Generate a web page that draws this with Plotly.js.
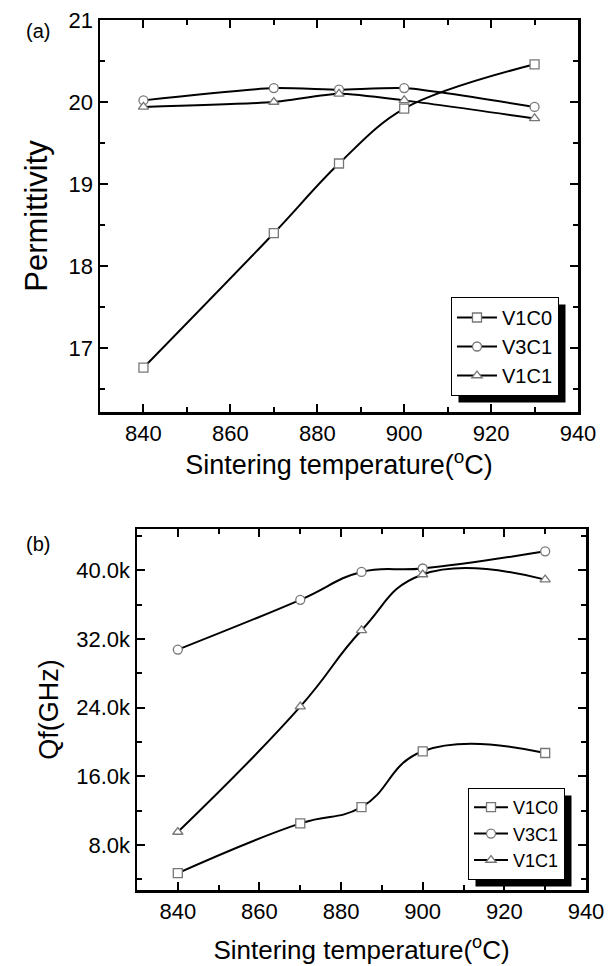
<!DOCTYPE html>
<html>
<head>
<meta charset="utf-8">
<script src="https://cdn.plot.ly/plotly-3.0.1.min.js"></script>
<style>html,body{margin:0;padding:0;background:#fff;}#chart{width:614px;height:966px;}</style>
</head>
<body>
<div id="chart"></div>
<script>
// ---- data ----
const temps = [840, 870, 885, 900, 930];
const seriesNames = ["V1C0", "V3C1", "V1C1"];
const permV1C0 = [16.76, 18.40, 19.25, 19.92, 20.46];
const permV3C1 = [20.02, 20.17, 20.15, 20.17, 19.94];
const permV1C1 = [19.94, 20.00, 20.10, 20.02, 19.80];
const qfV1C0 = [4700, 10500, 12400, 18900, 18700];
const qfV3C1 = [30750, 36550, 39800, 40200, 42200];
const qfV1C1 = [9500, 24100, 33000, 39500, 38900];
const qfTickVals = [8000, 16000, 24000, 32000, 40000];
const qfTickText = ["8.0k", "16.0k", "24.0k", "32.0k", "40.0k"];

const W = 614, H = 966;
const px = v => v / W;
const py = v => 1 - v / H;
const FONT = "Liberation Sans, Arial, sans-serif";
const symbols = ["square", "circle", "triangle-up"];

function mk(y, i, xa, ya, leg, sm) {
  return {
    x: temps, y: y, name: seriesNames[i], xaxis: xa, yaxis: ya, legend: leg,
    mode: "lines+markers", type: "scatter",
    line: {color: "#000", width: 2, shape: "spline", smoothing: sm},
    marker: {symbol: symbols[i], size: 9, color: "#fff", line: {width: 1.3, color: "#777"}}
  };
}
const traces = [
  mk(permV1C0, 0, "x", "y", "legend", 1),
  mk(permV3C1, 1, "x", "y", "legend", 0.6),
  mk(permV1C1, 2, "x", "y", "legend", 0.6),
  mk(qfV1C0, 0, "x2", "y2", "legend2", 1.3),
  mk(qfV3C1, 1, "x2", "y2", "legend2", 1.2),
  mk(qfV1C1, 2, "x2", "y2", "legend2", 1.3)
];

const axBase = {
  showgrid: false, zeroline: false, showline: true, linecolor: "#000", linewidth: 2.5,
  mirror: "ticks", ticks: "inside", ticklen: 8, tickwidth: 2, tickcolor: "#000",
  tickfont: {family: FONT, size: 22, color: "#000"}, automargin: false
};
const legBase = {
  bgcolor: "#fff", bordercolor: "#000", borderwidth: 1,
  xanchor: "left", yanchor: "top", tracegroupgap: 0
};

const layout = {
  width: W, height: H, margin: {l: 0, r: 0, t: 0, b: 0},
  paper_bgcolor: "#fff", plot_bgcolor: "#fff", showlegend: true,
  xaxis: Object.assign({}, axBase, {
    domain: [px(100), px(578)], range: [830, 940], anchor: "y",
    tick0: 840, dtick: 20, minor: {dtick: 10, tick0: 830, ticks: "inside", ticklen: 5, tickwidth: 2, tickcolor: "#000"},
    title: {text: "Sintering temperature(<sup>o</sup>C)", font: {family: FONT, size: 27, color: "#000"}, standoff: 8}
  }),
  yaxis: Object.assign({}, axBase, {
    domain: [py(412), py(20)], range: [16.22, 21], anchor: "x",
    tick0: 17, dtick: 1, minor: {dtick: 0.5, ticks: "inside", ticklen: 5, tickwidth: 2, tickcolor: "#000"},
    title: {text: "Permittivity", font: {family: FONT, size: 31, color: "#000"}, standoff: 12}
  }),
  xaxis2: Object.assign({}, axBase, {
    domain: [px(137), px(586)], range: [830, 940], anchor: "y2",
    tick0: 840, dtick: 20, minor: {dtick: 10, tick0: 830, ticks: "inside", ticklen: 5, tickwidth: 2, tickcolor: "#000"},
    title: {text: "Sintering temperature(<sup>o</sup>C)", font: {family: FONT, size: 26, color: "#000"}, standoff: 18}
  }),
  yaxis2: Object.assign({}, axBase, {
    domain: [py(890), py(529)], range: [2740, 44800], anchor: "x2",
    tickmode: "array", tickvals: qfTickVals, ticktext: qfTickText,
    minor: {tickmode: "linear", tick0: 0, dtick: 4000, ticks: "inside", ticklen: 5, tickwidth: 2, tickcolor: "#000"},
    title: {text: "Qf(GHz)", font: {family: FONT, size: 27, color: "#000"}, standoff: 10}
  }),
  legend: Object.assign({}, legBase, {x: px(451), y: py(297), itemwidth: 40,
    font: {family: FONT, size: 20, color: "#000"}}),
  legend2: Object.assign({}, legBase, {x: px(468), y: py(788), itemwidth: 34,
    font: {family: FONT, size: 18, color: "#000"}}),
  annotations: [
    {text: "(a)", xref: "paper", yref: "paper", x: px(24), y: py(18), showarrow: false,
     font: {family: FONT, size: 20, color: "#000"}},
    {text: "(b)", xref: "paper", yref: "paper", x: px(24), y: py(544), showarrow: false,
     font: {family: FONT, size: 20, color: "#000"}}
  ]
};

Plotly.newPlot("chart", traces, layout, {staticPlot: true, displayModeBar: false}).then(gd => {
  // drop shadows behind the legend boxes, sized from the drawn legends
  const c = gd.getBoundingClientRect();
  const shapes = [];
  gd.querySelectorAll(".infolayer rect.bg").forEach(bg => {
    if (bg.closest(".annotation")) return;
    const grp = bg.parentNode;
    const cls = (grp.getAttribute("class") || "");
    if (cls.indexOf("legend") !== 0) return;
    const r = bg.getBoundingClientRect();
    if (r.width < 5 || r.height < 5) return;
    const off = 7;
    shapes.push({type: "rect", xref: "paper", yref: "paper", layer: "above",
      x0: px(r.left - c.left + off), x1: px(r.right - c.left + off),
      y0: py(r.bottom - c.top + off), y1: py(r.top - c.top + off),
      fillcolor: "#000", line: {width: 0}});
  });
  return Plotly.relayout(gd, {shapes: shapes});
});
</script>
</body>
</html>
